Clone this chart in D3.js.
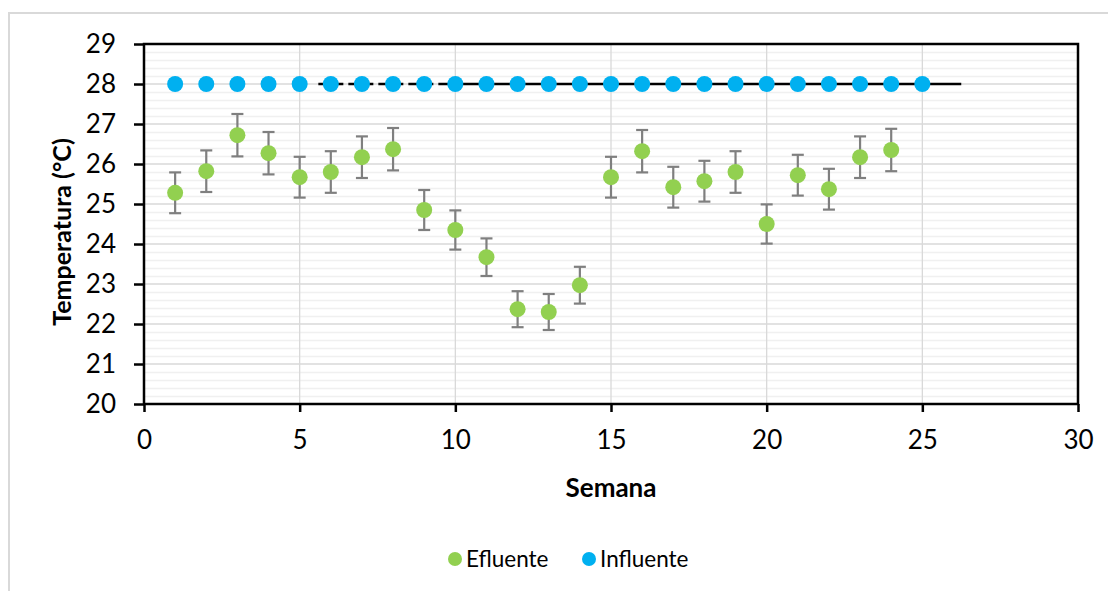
<!DOCTYPE html>
<html><head><meta charset="utf-8">
<script src="https://cdn.jsdelivr.net/npm/d3@7"></script>
<style>body{margin:0;background:#fff}svg{display:block;font-family:Lato,'Open Sans',sans-serif}</style>
</head><body><svg id="c" width="1108" height="591"></svg>
<script>
const semanas = [1,2,3,4,5,6,7,8,9,10,11,12,13,14,15,16,17,18,19,20,21,22,23,24,25];
const efluente = [25.28,25.82,26.72,26.27,25.67,25.8,26.17,26.37,24.85,24.35,23.67,22.37,22.3,22.97,25.67,26.32,25.42,25.57,25.8,24.5,25.72,25.37,26.17,26.35];
const efluenteErr = [0.51,0.52,0.53,0.53,0.51,0.52,0.52,0.53,0.5,0.49,0.47,0.45,0.45,0.46,0.51,0.53,0.51,0.51,0.52,0.49,0.51,0.51,0.52,0.53];
const influente = [28,28,28,28,28,28,28,28,28,28,28,28,28,28,28,28,28,28,28,28,28,28,28,28,28];
const xTicks = [0,5,10,15,20,25,30];
const yTicks = [20,21,22,23,24,25,26,27,28,29];
const refLine = {y:28, dashFrom:5.6, solidFrom:9.9, to:26.25};

const svg = d3.select('#c');
const m = {l:144, r:1078, t:44, b:404};
const x = d3.scaleLinear().domain([0,30]).range([m.l,m.r]);
const y = d3.scaleLinear().domain([20,29]).range([m.b,m.t]);

// outer chart border
svg.append('rect').attr('x',9).attr('y',13).attr('width',1108).attr('height',600)
  .attr('fill','#fff').attr('stroke','#d9d9d9').attr('stroke-width',2);

// minor gridlines
const minor = d3.range(20,29.001,0.2).filter(v=>Math.abs(v-Math.round(v))>0.01);
svg.append('g').selectAll('line').data(minor).join('line')
  .attr('x1',m.l).attr('x2',m.r).attr('y1',d=>Math.round(y(d))+0.5).attr('y2',d=>Math.round(y(d))+0.5)
  .attr('stroke','#f0f0f0').attr('stroke-width',1.3);
// major gridlines
svg.append('g').selectAll('line').data(yTicks).join('line')
  .attr('x1',m.l).attr('x2',m.r).attr('y1',d=>y(d)).attr('y2',d=>y(d))
  .attr('stroke','#d9d9d9').attr('stroke-width',1.3);
svg.append('g').selectAll('line').data(xTicks.slice(1,-1)).join('line')
  .attr('x1',d=>x(d)).attr('x2',d=>x(d)).attr('y1',m.t).attr('y2',m.b)
  .attr('stroke','#d9d9d9').attr('stroke-width',1.3);

// axes
const yAx = svg.append('g').attr('transform',`translate(${m.l},0)`)
  .call(d3.axisLeft(y).tickValues(yTicks).tickSize(10).tickPadding(18).tickFormat(d3.format('d')));
const xAx = svg.append('g').attr('transform',`translate(0,${m.b})`)
  .call(d3.axisBottom(x).tickValues(xTicks).tickSize(8).tickPadding(19).tickFormat(d3.format('d')));
[yAx,xAx].forEach(a=>{
  a.select('.domain').remove();
  a.selectAll('.tick line').attr('stroke','#000').attr('stroke-width',2.5);
  a.selectAll('text').attr('font-size',26).attr('fill','#000').attr('font-family','Lato');
});
// plot border
svg.append('rect').attr('x',m.l).attr('y',m.t).attr('width',m.r-m.l).attr('height',m.b-m.t)
  .attr('fill','none').attr('stroke','#000').attr('stroke-width',2.5);

// reference line at 28
svg.append('line').attr('x1',x(refLine.dashFrom)).attr('x2',x(refLine.solidFrom))
  .attr('y1',y(refLine.y)).attr('y2',y(refLine.y)).attr('stroke','#000').attr('stroke-width',2.5)
  .attr('stroke-dasharray','10,5');
svg.append('line').attr('x1',x(refLine.solidFrom)).attr('x2',x(refLine.to))
  .attr('y1',y(refLine.y)).attr('y2',y(refLine.y)).attr('stroke','#000').attr('stroke-width',2.5);

// error bars
const eg = svg.append('g').attr('stroke','#7f7f7f').attr('stroke-width',2.2);
efluente.forEach((v,i)=>{
  const cx = x(semanas[i]), e = efluenteErr[i];
  eg.append('line').attr('x1',cx).attr('x2',cx).attr('y1',y(v+e)).attr('y2',y(v-e));
  eg.append('line').attr('x1',cx-6).attr('x2',cx+6).attr('y1',y(v+e)).attr('y2',y(v+e));
  eg.append('line').attr('x1',cx-6).attr('x2',cx+6).attr('y1',y(v-e)).attr('y2',y(v-e));
});
svg.append('g').selectAll('circle').data(efluente).join('circle')
  .attr('cx',(d,i)=>x(semanas[i])).attr('cy',d=>y(d)).attr('r',8).attr('fill','#92d050');
svg.append('g').selectAll('circle').data(influente).join('circle')
  .attr('cx',(d,i)=>x(semanas[i])).attr('cy',d=>y(d)).attr('r',8).attr('fill','#00b0f0');

// axis titles
svg.append('text').attr('x',(m.l+m.r)/2).attr('y',497).attr('text-anchor','middle')
  .attr('font-size',26).attr('font-weight','bold').text('Semana');
svg.append('text').attr('transform',`translate(71,${(m.t+m.b)/2+8}) rotate(-90)`).attr('text-anchor','middle')
  .attr('font-size',25).attr('font-weight','bold').text('Temperatura (°C)');

// legend
const leg = [{n:'Efluente',c:'#92d050',x:455},{n:'Influente',c:'#00b0f0',x:589}];
const lg = svg.append('g').selectAll('g').data(leg).join('g').attr('transform',d=>`translate(${d.x},559)`);
lg.append('circle').attr('r',7).attr('fill',d=>d.c);
lg.append('text').attr('x',11).attr('y',7.5).attr('font-size',22.5).text(d=>d.n);
</script></body></html>
